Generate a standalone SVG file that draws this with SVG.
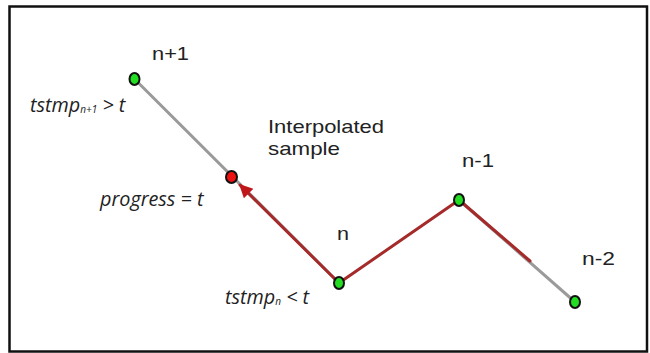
<svg xmlns="http://www.w3.org/2000/svg" width="650" height="353" viewBox="0 0 650 353">
<defs>
<style>
.lbl{font-family:"Liberation Sans",Arial,sans-serif;font-size:18.5px;fill:#222}
.it{font-family:"Open Sans","DejaVu Sans",sans-serif;font-style:italic;font-size:19.8px;fill:#222}
.sub{font-size:10px}
.gray{stroke:#9a9a9a;stroke-width:3;fill:none;stroke-linecap:round}
.red{stroke:#a52a2a;stroke-width:3;fill:none;stroke-linecap:round}
.gn{fill:#22dd22;stroke:#111;stroke-width:2}
.rn{fill:#ee1111;stroke:#111;stroke-width:2}
</style>
<marker id="arr" viewBox="0 0 10 10" refX="9" refY="5" markerWidth="5" markerHeight="4.5" orient="auto" markerUnits="strokeWidth">
<path d="M0,0 L10,5 L0,10 z" fill="#c0181a"/>
</marker>
</defs>
<rect x="9.5" y="6.5" width="637.5" height="345" fill="#fff" stroke="#111" stroke-width="2.5"/>
<g id="connectors">
<line class="gray" x1="134.5" y1="79" x2="339" y2="283"/>
<line class="red" x1="339" y1="283" x2="240" y2="185" marker-end="url(#arr)"/>
<line class="red" x1="339" y1="283" x2="459" y2="200"/>
<line class="gray" x1="459" y1="200" x2="575" y2="302"/>
<line class="red" x1="459" y1="200" x2="530" y2="261"/>
</g>
<g id="node-n1">
<ellipse class="gn" cx="134.5" cy="79" rx="5" ry="6"/>
<text class="lbl" x="152" y="60" textLength="37" lengthAdjust="spacingAndGlyphs">n+1</text>
<text class="it" x="30" y="111.5">tstmp<tspan class="sub" dy="1">n+1</tspan><tspan dy="-1"> &gt; t</tspan></text>
</g>
<g id="node-interp">
<ellipse class="rn" cx="231.5" cy="177" rx="5.5" ry="6"/>
<text class="lbl" x="268" y="133" textLength="116" lengthAdjust="spacingAndGlyphs">Interpolated</text>
<text class="lbl" x="268" y="155" textLength="72" lengthAdjust="spacingAndGlyphs">sample</text>
<text class="it" x="100" y="205.5">progress = t</text>
</g>
<g id="node-n">
<ellipse class="gn" cx="339" cy="283" rx="5" ry="6"/>
<text class="lbl" x="337" y="240" textLength="12" lengthAdjust="spacingAndGlyphs">n</text>
<text class="it" x="225" y="304">tstmp<tspan class="sub" dy="1">n</tspan><tspan dy="-1"> &lt; t</tspan></text>
</g>
<g id="node-nm1">
<ellipse class="gn" cx="459" cy="200" rx="5" ry="6"/>
<text class="lbl" x="462" y="167" textLength="32" lengthAdjust="spacingAndGlyphs">n-1</text>
</g>
<g id="node-nm2">
<ellipse class="gn" cx="575" cy="302" rx="5" ry="6"/>
<text class="lbl" x="582" y="265" textLength="33" lengthAdjust="spacingAndGlyphs">n-2</text>
</g>
</svg>
